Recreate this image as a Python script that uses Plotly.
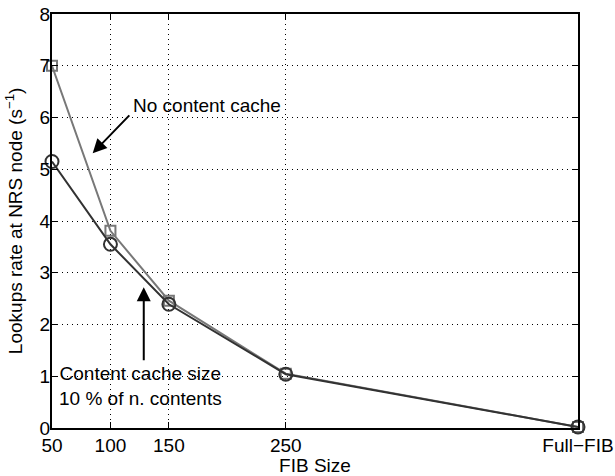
import plotly.graph_objects as go

# Data
fib_sizes = [50, 100, 150, 250, 500]
tick_labels = ["50", "100", "150", "250", "Full\u2212FIB"]
no_cache = [7.0, 3.81, 2.46, 1.05, 0.02]
cache_10pct = [5.15, 3.55, 2.39, 1.04, 0.02]

FONT = "Liberation Sans, Arial, Helvetica, sans-serif"
FS = 19

fig = go.Figure()
fig.add_trace(go.Scatter(
    x=fib_sizes, y=no_cache, mode="lines+markers", name="No content cache",
    line=dict(color="rgb(120,120,120)", width=2),
    marker=dict(symbol="square-open", size=10, color="rgb(120,120,120)",
                line=dict(width=2, color="rgb(120,120,120)")),
    cliponaxis=False,
))
fig.add_trace(go.Scatter(
    x=fib_sizes, y=cache_10pct, mode="lines+markers", name="Content cache 10%",
    line=dict(color="rgb(50,50,50)", width=2),
    marker=dict(symbol="circle-open", size=13, color="rgb(50,50,50)",
                line=dict(width=2, color="rgb(50,50,50)")),
    cliponaxis=False,
))

axis_common = dict(
    showline=True, linecolor="black", linewidth=2, mirror="allticks",
    ticks="inside", ticklen=6, tickwidth=1, tickcolor="black",
    showgrid=True, gridcolor="black", gridwidth=1, griddash="1px,4px",
    zeroline=False, tickfont=dict(size=FS, color="black", family=FONT),
    automargin=False,
)

fig.update_xaxes(
    range=[50, 500], tickvals=fib_sizes, ticktext=tick_labels,
    title=dict(text="FIB Size", font=dict(size=FS, color="black", family=FONT), standoff=0),
    ticklabelstandoff=-1,
    **axis_common,
)
fig.update_yaxes(
    range=[0, 8], tickvals=list(range(0, 9)),
    ticklabelstandoff=-4,
    **axis_common,
)

# Y-axis title as rotated annotation
fig.add_annotation(x=-0.072, y=0.5, xref="paper", yref="paper",
                   text="Lookups rate at NRS node (s<sup>\u22121</sup>)",
                   textangle=-90, showarrow=False, xanchor="center", yanchor="middle",
                   font=dict(size=FS, color="black", family=FONT))

# Annotations
fig.add_annotation(x=182.5, y=6.24, text="No content cache", showarrow=False,
                   font=dict(size=FS, color="black", family=FONT), xref="x", yref="y")
fig.add_annotation(x=84.8, y=5.31, ax=117.4, ay=6.07, axref="x", ayref="y",
                   text="", showarrow=True, arrowhead=2, arrowsize=1.4,
                   arrowwidth=2, arrowcolor="black", xref="x", yref="y")
fig.add_annotation(x=125.5, y=0.82, text="Content cache size<br>10 % of n. contents",
                   showarrow=False, align="center",
                   font=dict(size=FS, color="black", family=FONT), xref="x", yref="y")
fig.add_annotation(x=128.5, y=2.72, ax=128.5, ay=1.28, axref="x", ayref="y",
                   text="", showarrow=True, arrowhead=2, arrowsize=1.4,
                   arrowwidth=2, arrowcolor="black", xref="x", yref="y")

fig.update_layout(
    width=615, height=476,
    margin=dict(l=52, r=37, t=14, b=48),
    paper_bgcolor="white", plot_bgcolor="white",
    showlegend=False,
    font=dict(family=FONT, color="black", size=FS),
)

fig.write_html("out.html", config={"displayModeBar": False},
               post_script="document.body.style.margin='0';document.body.style.overflow='hidden';")
